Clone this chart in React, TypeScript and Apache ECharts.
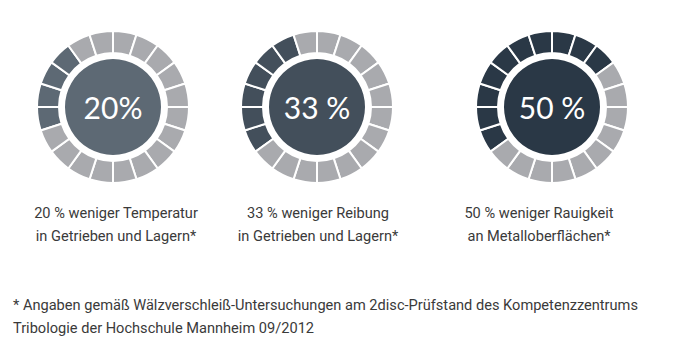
import React, { useEffect, useRef } from "react";
import * as echarts from "echarts";

const percentLabels = ["20%", "33\u202F%", "50\u202F%"];
const darkSegments = [4, 6, 10];
const totalSegments = 20;
const startAngles = [198, 216, 216];
const captionLine1 = ["20 % weniger Temperatur", "33 % weniger Reibung", "50 % weniger Rauigkeit"];
const captionLine2 = ["in Getrieben und Lagern*", "in Getrieben und Lagern*", "an Metalloberflächen*"];
const footnote = [
  "* Angaben gemäß Wälzverschleiß-Untersuchungen am 2disc-Prüfstand des Kompetenzzentrums",
  "Tribologie der Hochschule Mannheim 09/2012",
];

const darkColors = ["#5d6974", "#434f5b", "#2a3846"];
const grayColor = "#a9aaae";
const centers: [number, number][] = [
  [113, 107],
  [317, 107],
  [552, 107],
];
const captionX = [116, 318, 539];
const textFont = "14.6px Roboto";

export default function App() {
  const ref = useRef<HTMLDivElement>(null);
  useEffect(() => {
    if (!ref.current) return;
    const chart = echarts.init(ref.current, null, { renderer: "svg" });
    const series: any[] = [];
    const graphic: any[] = [];
    percentLabels.forEach((p, i) => {
      const segs = Array.from({ length: totalSegments }, (_, k) => ({
        value: 1,
        itemStyle: { color: k < darkSegments[i] ? darkColors[i] : grayColor },
      }));
      series.push({
        type: "pie",
        silent: true,
        center: centers[i],
        radius: [54, 76],
        startAngle: startAngles[i],
        clockwise: true,
        label: { show: false },
        labelLine: { show: false },
        itemStyle: { borderColor: "#ffffff", borderWidth: 2 },
        data: segs,
      });
      series.push({
        type: "pie",
        silent: true,
        center: centers[i],
        radius: [0, 48],
        label: {
          show: true,
          position: "center",
          formatter: p,
          color: "#ffffff",
          fontFamily: "Lato",
          fontWeight: 400,
          fontSize: 30,
        },
        labelLine: { show: false },
        data: [{ value: 1, itemStyle: { color: darkColors[i] } }],
      });
      graphic.push({
        type: "text",
        x: captionX[i],
        y: 213,
        style: {
          text: captionLine1[i],
          textAlign: "center",
          textVerticalAlign: "middle",
          fill: "#3a3a3a",
          font: textFont,
        },
      });
      graphic.push({
        type: "text",
        x: captionX[i],
        y: 236,
        style: {
          text: captionLine2[i],
          textAlign: "center",
          textVerticalAlign: "middle",
          fill: "#3a3a3a",
          font: textFont,
        },
      });
    });
    footnote.forEach((t, j) => {
      graphic.push({
        type: "text",
        x: 13,
        y: 305 + j * 23,
        style: {
          text: t,
          textAlign: "left",
          textVerticalAlign: "middle",
          fill: "#3a3a3a",
          font: textFont,
        },
      });
    });
    chart.setOption({
      animation: false,
      backgroundColor: "#ffffff",
      series,
      graphic,
    });
    return () => chart.dispose();
  }, []);
  return (
    <div
      ref={ref}
      style={{ position: "absolute", left: 0, top: 0, width: 688, height: 359 }}
    />
  );
}
